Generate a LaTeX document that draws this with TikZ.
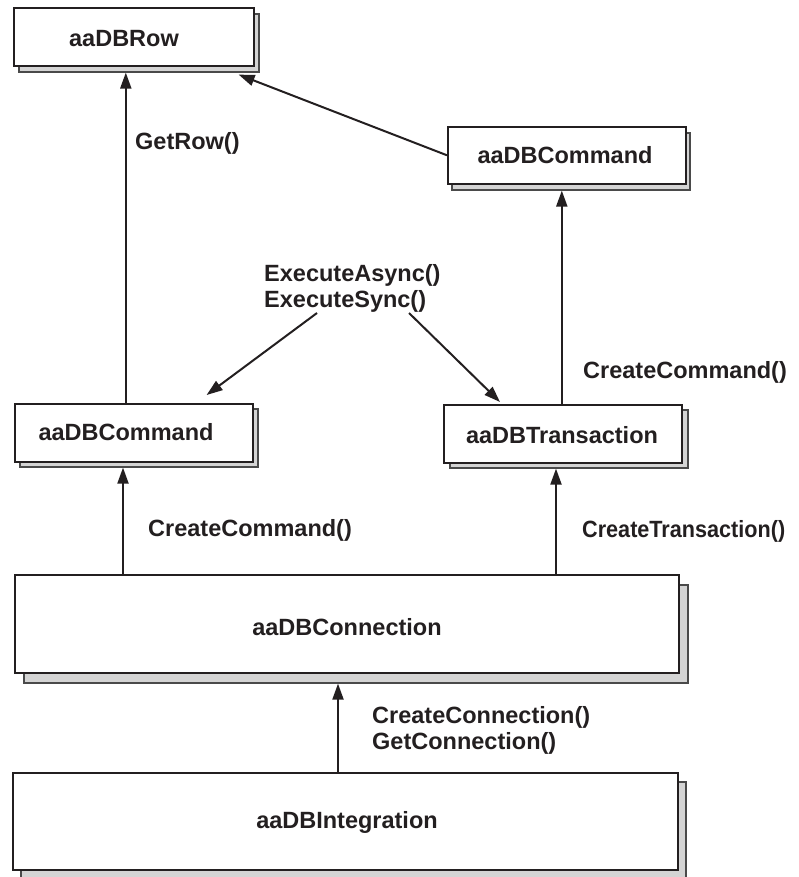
\documentclass[tikz,border=0pt]{standalone}
\usepackage{fontspec}
\setmainfont{Liberation Sans}
\usetikzlibrary{arrows.meta,calc}
\definecolor{ink}{HTML}{231F20}
\definecolor{shadefill}{HTML}{D4D4D4}
\definecolor{shadeedge}{HTML}{4A4A4A}
\begin{document}
\begin{tikzpicture}[x=1pt,y=-1pt,
  mainbox/.style={draw=ink,fill=white,line width=1.6pt,inner sep=0pt,anchor=north west},
  shadowbox/.style={draw=shadeedge,fill=shadefill,line width=1.6pt,inner sep=0pt,anchor=north west},
  lbl/.style={font=\fontsize{23.5}{26}\selectfont\bfseries,text=ink,inner sep=0pt},
  arr/.style={draw=ink,line width=2pt,-{Triangle[length=16pt,width=11pt]}}]
\useasboundingbox (0,0) rectangle (798,877);
% aaDBRow
\node[shadowbox,minimum width=240pt,minimum height=58pt] (rowS) at (18,13) {};
\node[mainbox,minimum width=240pt,minimum height=58pt] (row) at (13,7) {};
\node[lbl] (rowL) at (124,39) {aaDBRow};
% aaDBCommand top right
\node[shadowbox,minimum width=238pt,minimum height=57pt] (cmdtopS) at (451,132) {};
\node[mainbox,minimum width=238pt,minimum height=57pt] (cmdtop) at (447,126) {};
\node[lbl] (cmdtopL) at (565,155) {aaDBCommand};
% aaDBCommand left
\node[shadowbox,minimum width=238pt,minimum height=58pt] (cmdleftS) at (19,408) {};
\node[mainbox,minimum width=238pt,minimum height=58pt] (cmdleft) at (14,403) {};
\node[lbl] (cmdleftL) at (126,432) {aaDBCommand};
% aaDBTransaction
\node[shadowbox,minimum width=238pt,minimum height=58pt] (transS) at (449,409) {};
\node[mainbox,minimum width=238pt,minimum height=58pt] (trans) at (443,404) {};
\node[lbl] (transL) at (562,435) {aaDBTransaction};
% aaDBConnection
\node[shadowbox,minimum width=664pt,minimum height=98pt] (connS) at (23,584) {};
\node[mainbox,minimum width=664pt,minimum height=98pt] (conn) at (14,574) {};
\node[lbl] (connL) at (347,627) {aaDBConnection};
% aaDBIntegration
\node[shadowbox,minimum width=665pt,minimum height=97pt] (integS) at (20,781) {};
\node[mainbox,minimum width=665pt,minimum height=97pt] (integ) at (12,772) {};
\node[lbl] (integL) at (347,822) {aaDBIntegration};
% labels
\node[lbl,anchor=west] (getrow) at (135,143) {GetRow()};
\node[lbl,anchor=west,align=left] (exec) at (264,288) {ExecuteAsync()\\ExecuteSync()};
\node[lbl,anchor=west] (cc1) at (583,372) {CreateCommand()};
\node[lbl,anchor=west] (cc2) at (148,530) {CreateCommand()};
\node[lbl,anchor=west,xscale=0.92] (ct) at (582,531) {CreateTransaction()};
\node[lbl,anchor=west,align=left] (cconn) at (372,730) {CreateConnection()\\GetConnection()};
\coordinate (e1) at (317,313);
\coordinate (e2) at (409,313);
% connectors
\draw[arr] ([xshift=-8pt]cmdleft.north) -- ([xshift=-8pt]cmdleft.north |- rowS.south);
\draw[arr] (cmdtop.west) -- ([xshift=-21pt,yshift=-2pt]rowS.south east);
\draw[arr] ([xshift=-1pt]trans.north) -- ([xshift=-1pt]trans.north |- cmdtopS.south);
\draw[arr] (e1) -- ([xshift=-47pt,yshift=8pt]cmdleft.north east);
\draw[arr] (e2) -- ([xshift=57pt,yshift=2pt]trans.north west);
\draw[arr] ([xshift=109pt]conn.north west) -- ([xshift=109pt]conn.north west |- cmdleftS.south);
\draw[arr] ([xshift=542pt]conn.north west) -- ([xshift=542pt]conn.north west |- transS.south);
\draw[arr] ([xshift=326pt]integ.north west) -- ([xshift=326pt]integ.north west |- connS.south);
\end{tikzpicture}
\end{document}
